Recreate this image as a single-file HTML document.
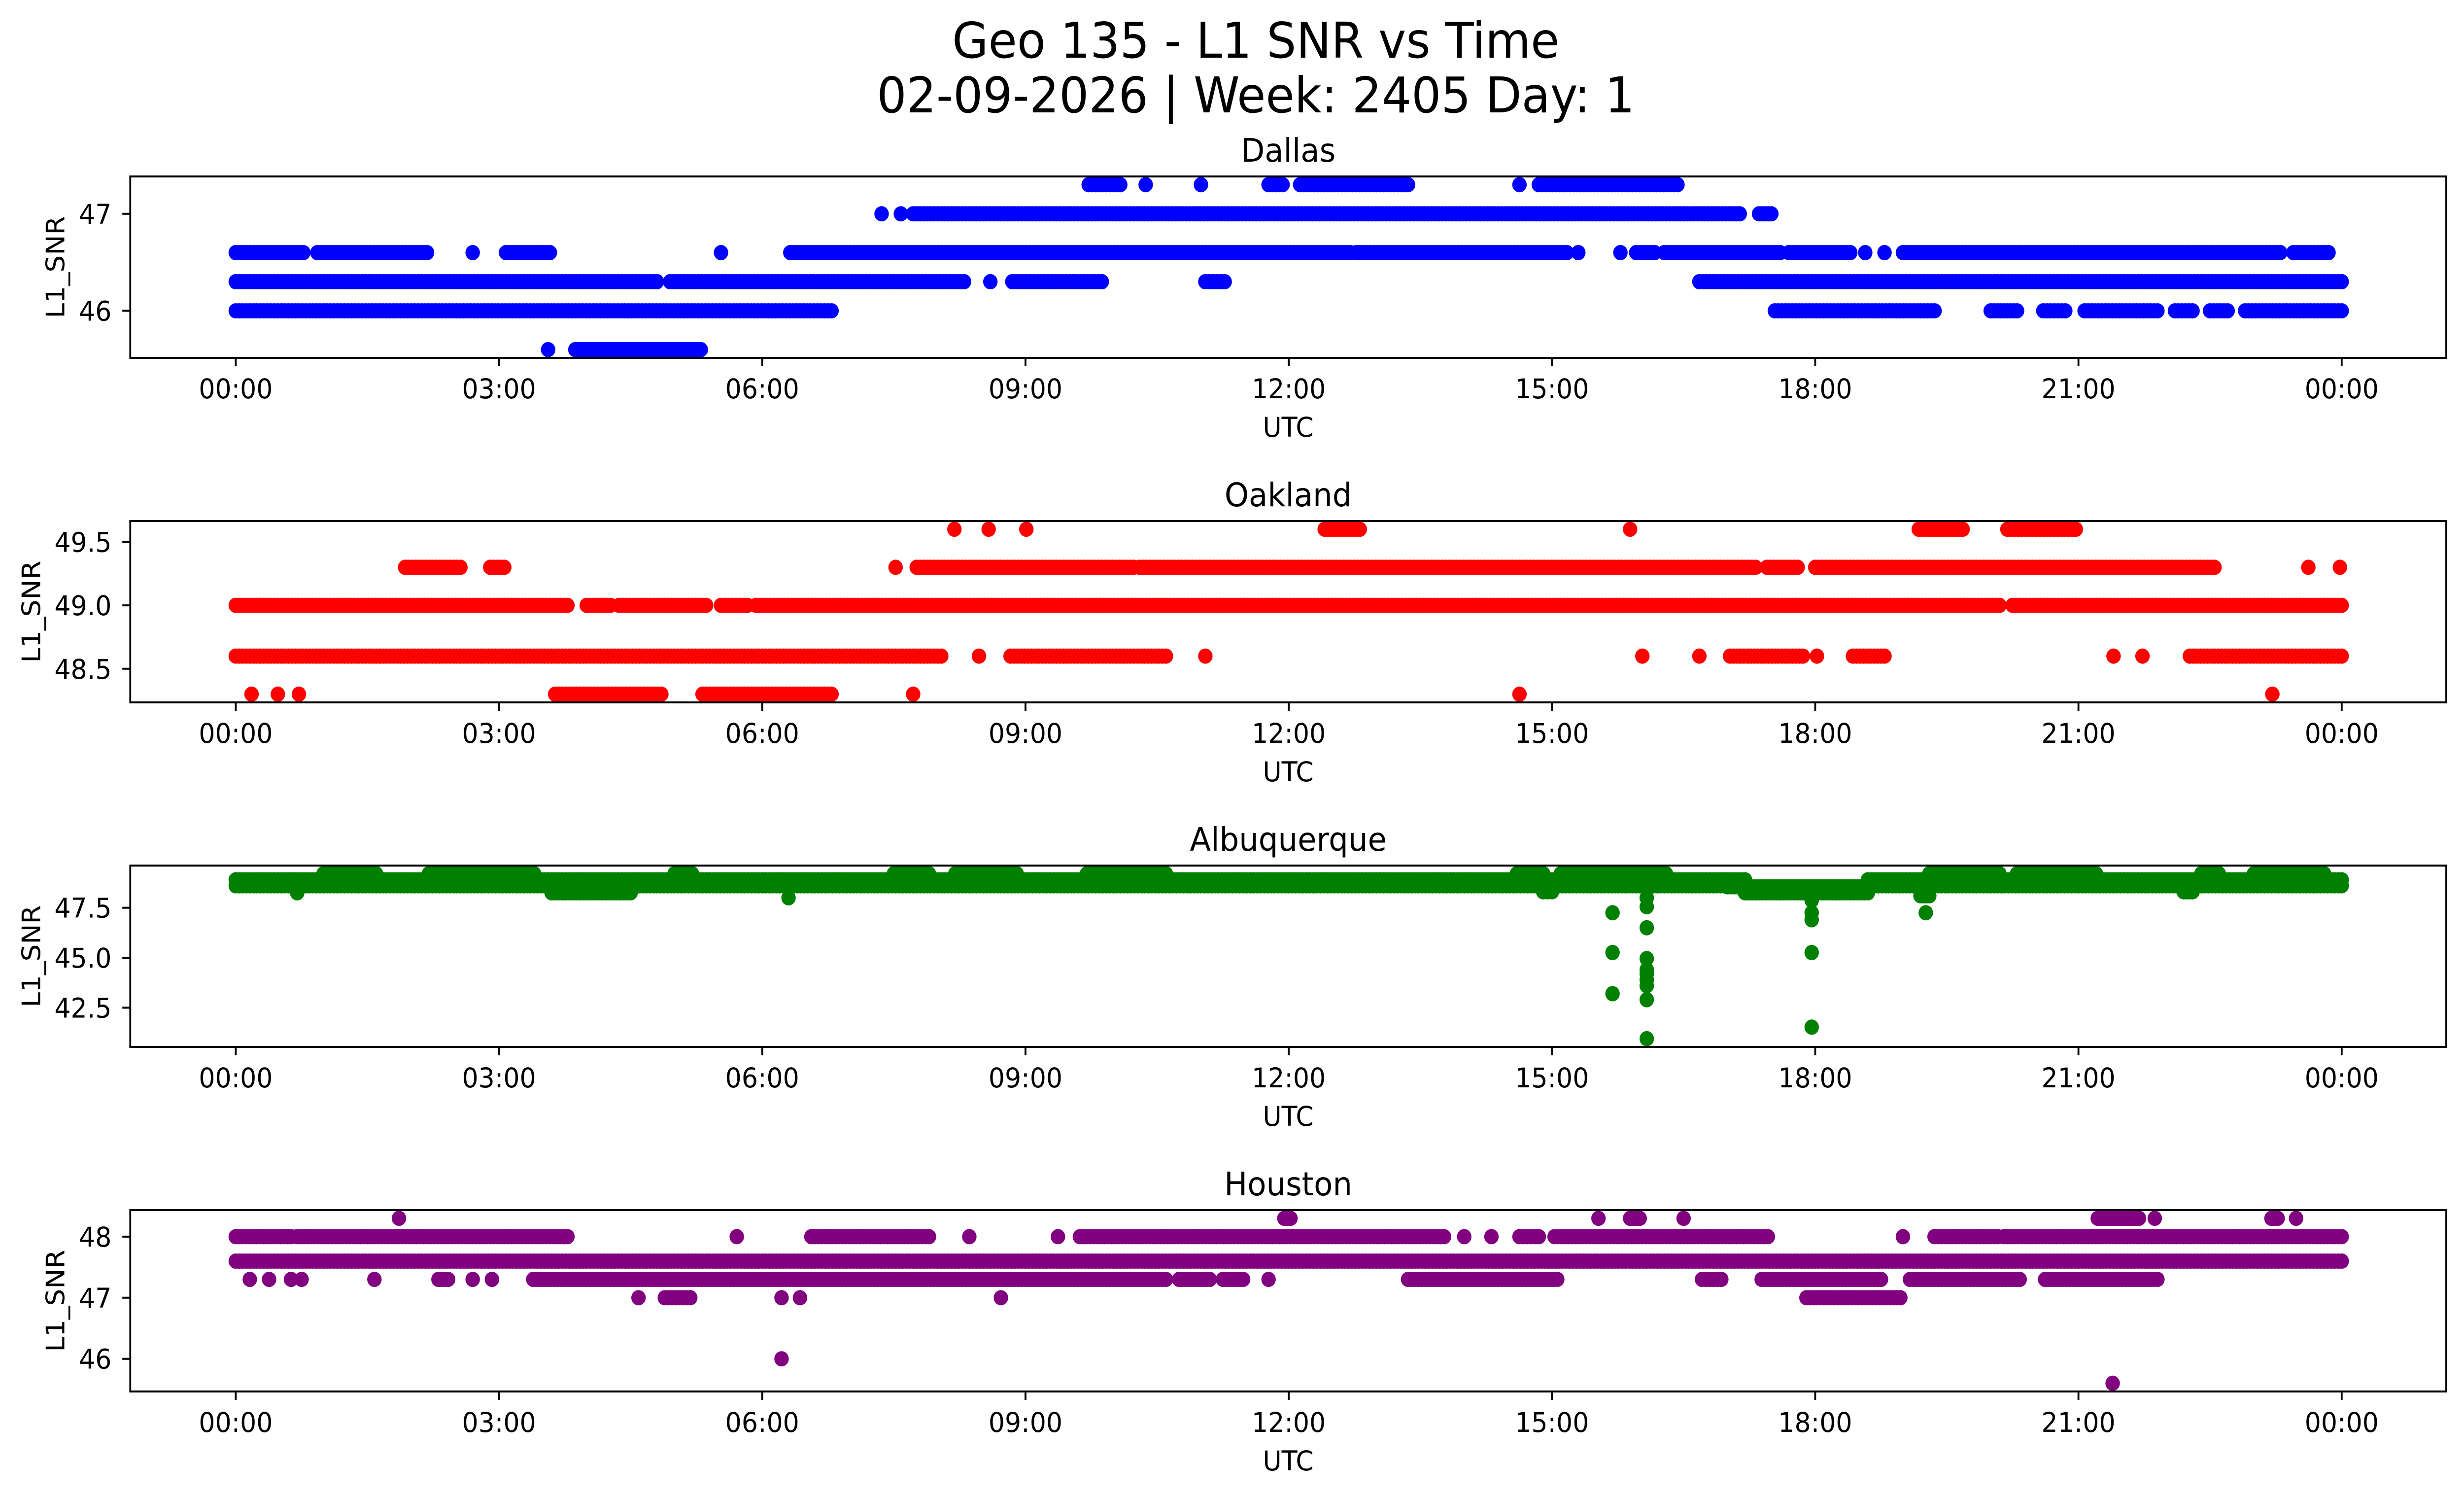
<!DOCTYPE html>
<html><head><meta charset="utf-8">
<meta name="viewport" content="width=5278, initial-scale=1">
<style>
html,body{margin:0;padding:0;background:#fff;width:100%;height:100%;overflow:hidden;}
svg{display:block;position:fixed;left:0;top:0;width:100vw;height:100vh;font-family:"DejaVu Sans","Liberation Sans",sans-serif;}
</style></head>
<body>
<svg id="fig" viewBox="0 0 5278 3033" preserveAspectRatio="none" xmlns="http://www.w3.org/2000/svg" overflow="hidden">
<rect width="5278" height="3033" fill="#fff"/>
<text x="2690" y="117" font-size="100" text-anchor="middle">Geo 135 - L1 SNR vs Time</text>
<text x="2690" y="228" font-size="100" text-anchor="middle">02-09-2026 | Week: 2405 Day: 1</text>
<g id="panels"></g>
</svg>
<script>
// ---- data: runs are [startHour, endHour, SNR] ----
const xTickHours = [0, 3, 6, 9, 12, 15, 18, 21, 24];
const xTickLabels = ["00:00","03:00","06:00","09:00","12:00","15:00","18:00","21:00","00:00"];

const dallasRuns = [
 [9.72,10.08,47.3],[10.37,10.37,47.3],[11.0,11.0,47.3],[11.77,11.93,47.3],[12.13,13.36,47.3],[14.63,14.63,47.3],[14.85,16.43,47.3],
 [7.36,7.36,47.0],[7.58,7.58,47.0],[7.72,17.14,47.0],[17.36,17.5,47.0],
 [0,0.77,46.6],[0.93,2.18,46.6],[2.7,2.7,46.6],[3.08,3.58,46.6],[5.53,5.53,46.6],[6.32,12.7,46.6],[12.77,15.17,46.6],[15.3,15.3,46.6],[15.78,15.78,46.6],[15.96,16.17,46.6],[16.28,17.6,46.6],[17.7,18.4,46.6],[18.57,18.57,46.6],[18.79,18.79,46.6],[19.0,23.3,46.6],[23.45,23.85,46.6],
 [0,4.8,46.3],[4.95,8.3,46.3],[8.6,8.6,46.3],[8.85,9.87,46.3],[11.05,11.27,46.3],[16.68,24,46.3],
 [0,6.79,46.0],[17.54,19.36,46.0],[20.0,20.3,46.0],[20.6,20.85,46.0],[21.07,21.9,46.0],[22.1,22.3,46.0],[22.5,22.7,46.0],[22.9,24,46.0],
 [3.56,3.56,45.6],[3.87,5.3,45.6]
];
const oaklandRuns = [
 [8.19,8.19,49.6],[8.58,8.58,49.6],[9.01,9.01,49.6],[12.41,12.81,49.6],[15.89,15.89,49.6],[19.18,19.68,49.6],[20.19,20.97,49.6],
 [1.93,2.56,49.3],[2.9,3.06,49.3],[7.52,7.52,49.3],[7.76,10.23,49.3],[10.3,17.32,49.3],[17.45,17.8,49.3],[18.0,22.55,49.3],[23.62,23.62,49.3],[23.98,23.98,49.3],
 [0,3.78,49.0],[4.0,4.27,49.0],[4.37,5.36,49.0],[5.53,5.83,49.0],[5.93,20.1,49.0],[20.25,24,49.0],
 [0,8.04,48.6],[8.47,8.47,48.6],[8.83,10.6,48.6],[11.05,11.05,48.6],[16.03,16.03,48.6],[16.68,16.68,48.6],[17.03,17.86,48.6],[18.02,18.02,48.6],[18.43,18.79,48.6],[21.4,21.4,48.6],[21.73,21.73,48.6],[22.27,24,48.6],
 [0.18,0.18,48.3],[0.48,0.48,48.3],[0.72,0.72,48.3],[3.64,4.85,48.3],[5.32,6.79,48.3],[7.72,7.72,48.3],[14.63,14.63,48.3],[23.21,23.21,48.3]
];
const albuquerqueRuns = [
 [0,17.2,48.9],[0,17.2,48.6],[18.6,24,48.9],[18.6,24,48.6],
 [17.0,18.6,48.55],[17.2,18.6,48.25],
 [1.0,1.6,49.2],[2.2,3.4,49.2],[5.0,5.2,49.2],[7.5,7.9,49.2],[8.2,8.9,49.2],[9.7,10.6,49.2],[14.6,14.9,49.2],[15.1,16.3,49.2],[19.3,20.1,49.2],[20.3,21.2,49.2],[22.4,22.6,49.2],[23.0,23.8,49.2],
 [0.7,0.7,48.25],[3.6,4.5,48.25],[6.3,6.3,48.0],[14.9,15.0,48.3],[19.2,19.3,48.1],[22.2,22.3,48.3],
 [15.69,15.69,47.25],[15.69,15.69,45.26],[15.69,15.69,43.2],
 [16.08,16.08,48.0],[16.08,16.08,47.55],[16.08,16.08,46.5],[16.08,16.08,44.96],[16.08,16.08,44.4],[16.08,16.08,44.2],[16.08,16.08,43.9],[16.08,16.08,43.6],[16.08,16.08,42.9],[16.08,16.08,40.95],
 [17.96,17.96,47.87],[17.96,17.96,47.25],[17.96,17.96,46.9],[17.96,17.96,45.26],[17.96,17.96,41.53],
 [19.26,19.26,48.1],[19.26,19.26,47.25]
];
const houstonRuns = [
 [1.86,1.86,48.3],[11.95,12.02,48.3],[15.53,15.53,48.3],[15.89,16.0,48.3],[16.5,16.5,48.3],[21.22,21.69,48.3],[21.87,21.87,48.3],[23.2,23.27,48.3],[23.48,23.48,48.3],
 [0,0.63,48.0],[0.7,3.78,48.0],[5.71,5.71,48.0],[6.56,7.9,48.0],[8.36,8.36,48.0],[9.37,9.37,48.0],[9.62,13.77,48.0],[14.0,14.0,48.0],[14.31,14.31,48.0],[14.63,14.85,48.0],[15.03,17.46,48.0],[19.0,19.0,48.0],[19.36,20.08,48.0],[20.15,24,48.0],
 [0,24,47.6],
 [0.16,0.16,47.3],[0.38,0.38,47.3],[0.63,0.63,47.3],[0.75,0.75,47.3],[1.58,1.58,47.3],[2.31,2.42,47.3],[2.7,2.7,47.3],[2.92,2.92,47.3],[3.39,10.6,47.3],[10.75,11.1,47.3],[11.25,11.48,47.3],[11.77,11.77,47.3],[13.36,15.06,47.3],[16.71,16.93,47.3],[17.39,18.75,47.3],[19.08,20.33,47.3],[20.62,21.9,47.3],
 [4.59,4.59,47.0],[4.89,5.18,47.0],[6.22,6.22,47.0],[6.43,6.43,47.0],[8.72,8.72,47.0],[17.9,18.97,47.0],
 [6.22,6.22,46.0],[21.39,21.39,45.6]
];
const dallasTicks = [46, 47];
const oaklandTicks = [48.5, 49.0, 49.5];
const albuquerqueTicks = [42.5, 45.0, 47.5];
const houstonTicks = [46, 47, 48];

const panelDefs = [
 {name:"dallas", title:"Dallas", runs:dallasRuns, ticks:dallasTicks, dec:0, color:"#0000ff", top:358, ylx:118},
 {name:"oakland", title:"Oakland", runs:oaklandRuns, ticks:oaklandTicks, dec:1, color:"#ff0000", top:1057, ylx:66},
 {name:"albuquerque", title:"Albuquerque", runs:albuquerqueRuns, ticks:albuquerqueTicks, dec:1, color:"#008000", top:1756, ylx:66},
 {name:"houston", title:"Houston", runs:houstonRuns, ticks:houstonTicks, dec:0, color:"#800080", top:2455, ylx:118}
];

const NS = "http://www.w3.org/2000/svg";
const AX_L = 279, AX_R = 5240, AX_H = 368;
const X0 = 505, X1 = 5016;
function xScale(h){ return X0 + (X1 - X0) * h / 24; }
function mk(tag, attrs, parent){
  const e = document.createElementNS(NS, tag);
  for (const k in attrs) e.setAttribute(k, attrs[k]);
  parent.appendChild(e); return e;
}
const root = document.getElementById("panels");
panelDefs.forEach(p => {
  const g = mk("g", {}, root);
  
  
  let mn = Infinity, mx = -Infinity;
  p.runs.forEach(r => { mn = Math.min(mn, r[2]); mx = Math.max(mx, r[2]); });
  const pad = (mx - mn) * 0.05, lo = mn - pad, hi = mx + pad;
  const top = p.top, bot = top + AX_H;
  const yScale = v => bot - (v - lo) / (hi - lo) * AX_H;
  const pts = mk("g", {fill: p.color}, g);
  
  
  p.runs.forEach(r => {
    const step = 0.04;
    const n = Math.max(0, Math.round((r[1] - r[0]) / step));
    for (let i = 0; i <= n; i++) {
      const h = n === 0 ? r[0] : r[0] + (r[1] - r[0]) * i / n;
      const c = mk("circle", {cx: xScale(h).toFixed(1), cy: yScale(r[2]).toFixed(1), r: 15.5}, pts);
      
      
    }
  });
  const fr = mk("rect", {x: AX_L, y: top, width: AX_R - AX_L, height: AX_H, fill: "none", stroke: "#000", "stroke-width": 4}, g);
  
  
  xTickHours.forEach((h, i) => {
    const x = xScale(h);
    const t = mk("line", {x1: x, x2: x, y1: bot, y2: bot + 17, stroke: "#000", "stroke-width": 4}, g);
    
    
    const lb = mk("text", {x: x, y: bot + 82, "font-size": 55, "text-anchor": "middle"}, g);
    lb.textContent = xTickLabels[i];
    
    
  });
  p.ticks.forEach(v => {
    const y = yScale(v);
    const t = mk("line", {x1: AX_L - 17, x2: AX_L, y1: y, y2: y, stroke: "#000", "stroke-width": 4}, g);
    
    
    const lb = mk("text", {x: AX_L - 40, y: y + 20, "font-size": 55, "text-anchor": "end"}, g);
    lb.textContent = v.toFixed(p.dec);
    
    
  });
  const xl = mk("text", {x: (AX_L + AX_R) / 2, y: bot + 160, "font-size": 55, "text-anchor": "middle"}, g);
  xl.textContent = "UTC";
  
  
  const cy = top + AX_H / 2;
  const lx = p.ylx + 20;
  const yl = mk("text", {x: lx, y: cy, "font-size": 55, "text-anchor": "middle", transform: "rotate(-90 " + lx + " " + cy + ")"}, g);
  yl.textContent = "L1_SNR";
  
  
  const tt = mk("text", {x: (AX_L + AX_R) / 2, y: top - 30, "font-size": 66, "text-anchor": "middle"}, g);
  tt.textContent = p.title;
  
  
});
</script>
</body></html>
